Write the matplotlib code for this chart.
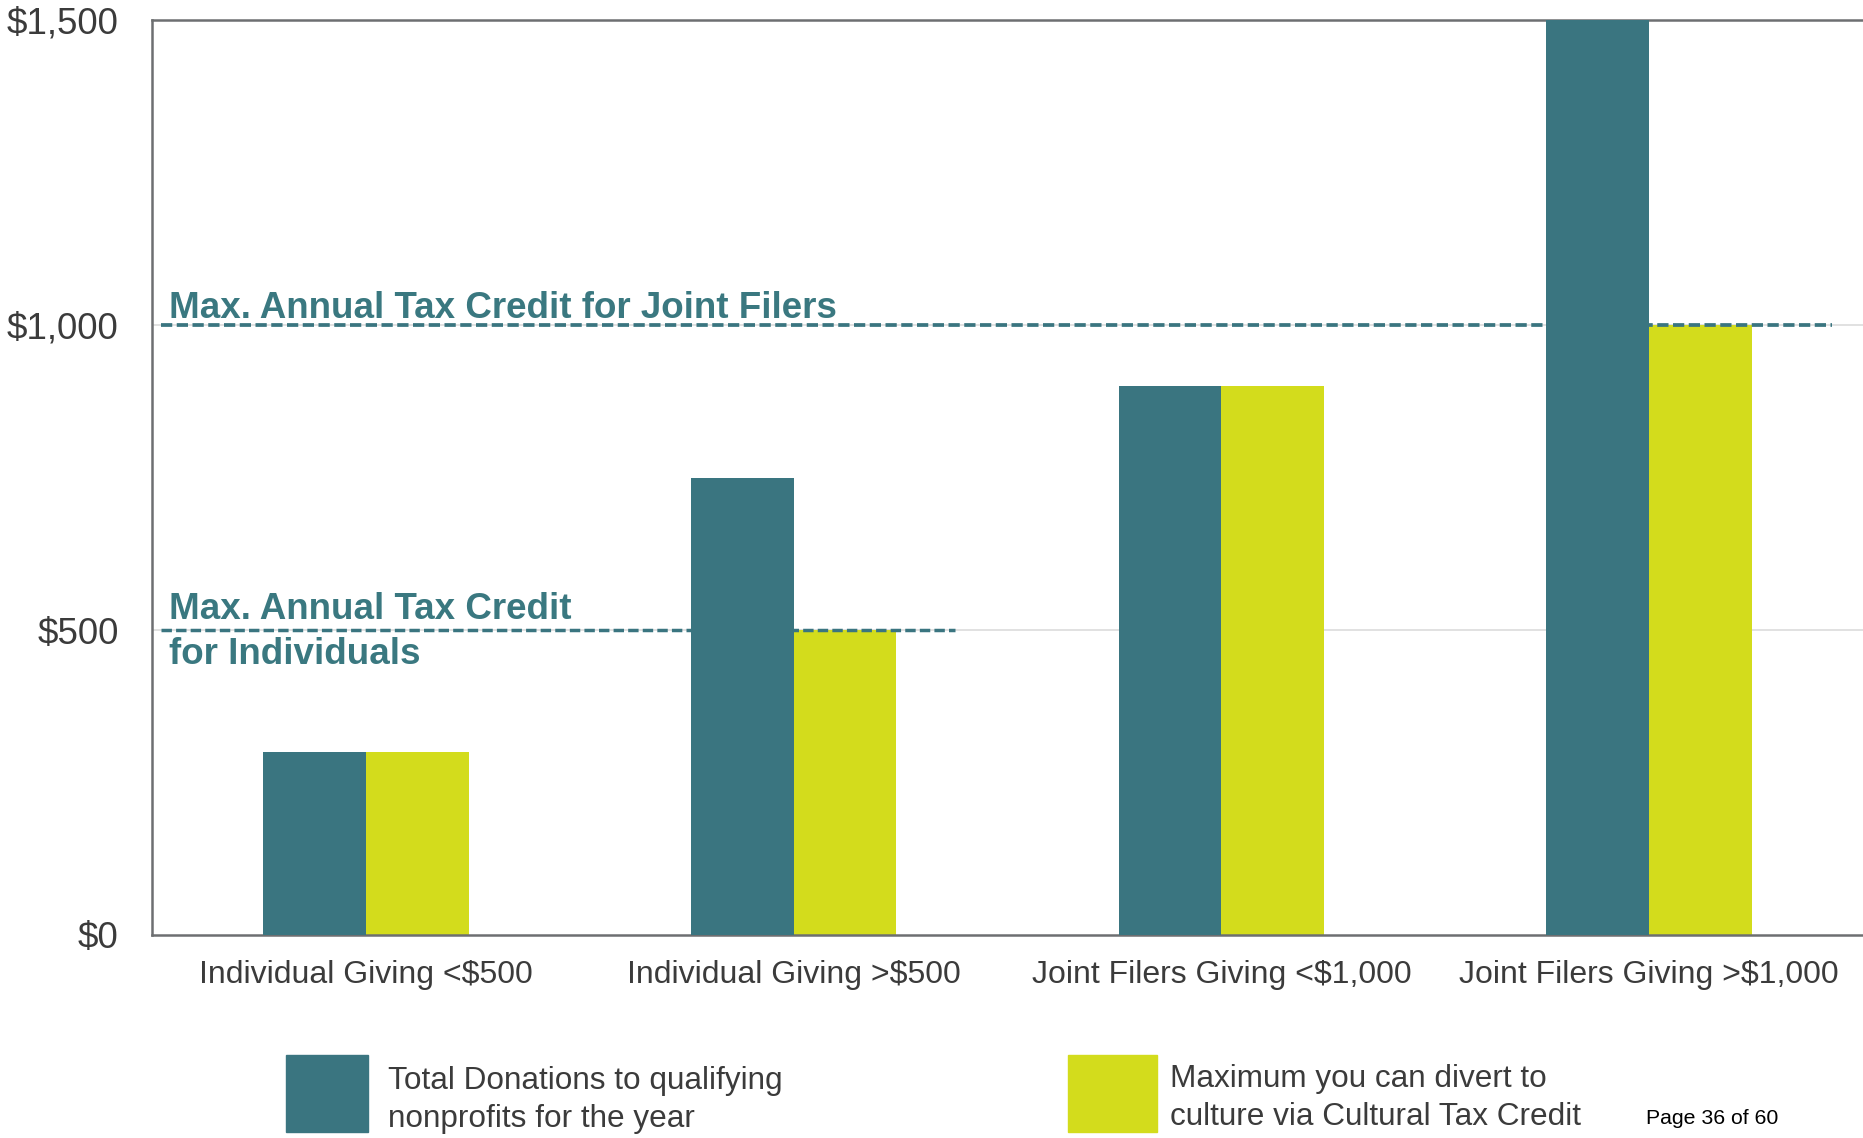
import matplotlib
matplotlib.use("Agg")
import matplotlib.pyplot as plt
from matplotlib.patches import Rectangle
import numpy as np

plt.rcParams['font.family'] = ['Liberation Sans', 'DejaVu Sans']

categories = ["Individual Giving <$500", "Individual Giving >$500",
              "Joint Filers Giving <$1,000", "Joint Filers Giving >$1,000"]
total_donations = [300, 750, 900, 1500]
max_divert = [300, 500, 900, 1000]
ytick_values = [0, 500, 1000, 1500]
ytick_labels = ["$0", "$500", "$1,000", "$1,500"]
series_labels = ["Total Donations to qualifying\nnonprofits for the year",
                 "Maximum you can divert to\nculture via Cultural Tax Credit"]
credit_individual = 500
credit_joint = 1000

TEAL = "#3a7580"
YELLOW = "#d3dc1c"
TEXT_TEAL = "#3a7880"
GREY_TXT = "#3b3b3b"
SPINE = "#6d6f71"

W, H = 1863, 1138
fig = plt.figure(figsize=(W / 100, H / 100), dpi=100)
ax = fig.add_axes([152 / W, 1 - 935 / H, 1 - 152 / W, (935 - 20) / H])

x = np.arange(len(categories))
bw = 0.24
ax.bar(x - bw / 2, total_donations, width=bw, color=TEAL, zorder=3)
ax.bar(x + bw / 2, max_divert, width=bw, color=YELLOW, zorder=2)

ax.set_xlim(-0.5, 3.5)
ax.set_ylim(0, 1500)
ax.set_yticks(ytick_values)
ax.set_yticklabels(ytick_labels)
ax.set_xticks(x)
ax.set_xticklabels(categories)
ax.tick_params(axis='y', length=0, pad=24, labelsize=26.5, labelcolor=GREY_TXT)
ax.tick_params(axis='x', length=0, pad=18, labelsize=23, labelcolor=GREY_TXT)

for yv in [500, 1000]:
    ax.axhline(yv, color="#dcdcdc", lw=1.2, zorder=0)

for s in ['left', 'top', 'bottom']:
    ax.spines[s].set_color(SPINE)
    ax.spines[s].set_linewidth(1.8)
ax.spines['right'].set_visible(False)

# reference lines
ax.plot([-0.479, 3.427], [credit_joint, credit_joint], color=TEAL, lw=2.7,
        dashes=(3.0, 1.2), zorder=2.5)
ax.plot([-0.479, 1.377], [credit_individual, credit_individual], color=TEAL, lw=2.5,
        dashes=(3.0, 1.2), zorder=2.5)

ax.text(-0.46, 1012, "Max. Annual Tax Credit for Joint Filers", color=TEXT_TEAL,
        fontsize=26.5, fontweight='bold', va='baseline', ha='left', zorder=4)
ax.text(-0.46, 518, "Max. Annual Tax Credit", color=TEXT_TEAL,
        fontsize=26.5, fontweight='bold', va='baseline', ha='left', zorder=4)
ax.text(-0.46, 445, "for Individuals", color=TEXT_TEAL,
        fontsize=26.5, fontweight='bold', va='baseline', ha='left', zorder=4)

# legend
fig.patches.append(Rectangle((286 / W, 1 - 1132 / H), 82 / W, 77 / H,
                             transform=fig.transFigure, color=TEAL))
fig.patches.append(Rectangle((1068 / W, 1 - 1132 / H), 89 / W, 77 / H,
                             transform=fig.transFigure, color=YELLOW))
fig.text(388 / W, 1 - 1100 / H, series_labels[0], fontsize=22.7, color=GREY_TXT,
         va='center', ha='left', linespacing=1.35)
fig.text(1170 / W, 1 - 1098 / H, series_labels[1], fontsize=22.7, color=GREY_TXT,
         va='center', ha='left', linespacing=1.35)
fig.text(1646 / W, 1 - 1118 / H, "Page 36 of 60", fontsize=15.3, color="black",
         va='center', ha='left')

fig.savefig("out.png", dpi=100)
